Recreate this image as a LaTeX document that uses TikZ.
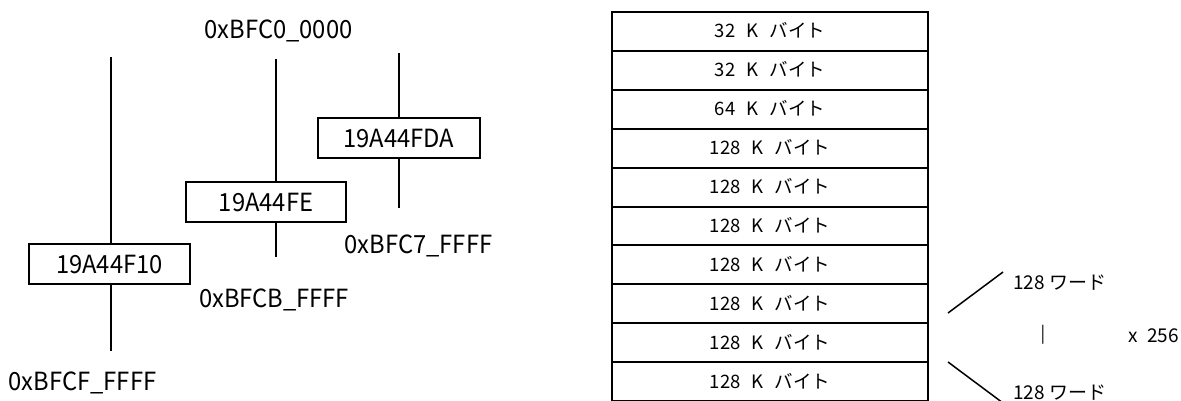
\documentclass[tikz,border=0pt]{standalone}
\usepackage{fontspec}
\newfontfamily\jpn{Noto Sans CJK JP}
\newfontfamily\jpc[FakeStretch=0.95]{Noto Sans CJK JP}
\newcommand\rowfont{\jpn\fontsize{18.5}{22}\selectfont\spaceskip=0.6em\relax}
\newcommand\numfont{\jpn\fontsize{19}{23}\selectfont\spaceskip=0.5em\relax}
\tikzset{
  addr/.style={font=\jpc\fontsize{25}{29}\selectfont, inner sep=0pt, anchor=base},
  valbox/.style={draw, line width=2pt, minimum height=40pt, inner sep=0pt,
    text height=18pt, text depth=0pt, font=\jpc\fontsize{25}{29}\selectfont},
  vline/.style={line width=1.5pt},
  row/.style={draw, line width=2pt, minimum width=316pt, minimum height=38.9pt, inner sep=0pt,
    text height=13pt, text depth=0pt, font=\rowfont},
  word/.style={font=\jpn\fontsize{19}{23}\selectfont, inner sep=0pt, anchor=base west},
  diag/.style={line width=1.5pt}
}
\begin{document}
\begin{tikzpicture}[x=1pt,y=-1pt]
\useasboundingbox (0,0) rectangle (1181,400);
% address labels
\node[addr] (a0) at (278.5,38) {0xBFC0\_0000};
\node[addr] (a1) at (82.5,390) {0xBFCF\_FFFF};
\node[addr] (a2) at (274,307) {0xBFCB\_FFFF};
\node[addr] (a3) at (418.5,253) {0xBFC7\_FFFF};
% value boxes
\node[valbox, minimum width=161pt] (b1) at (109.5,264) {19A44F10};
\node[valbox, minimum width=160pt] (b2) at (266,202) {19A44FE};
\node[valbox, minimum width=162pt] (b3) at (399,138) {19A44FDA};
% line ends
\coordinate (t1) at (111,57);  \coordinate (u1) at (111,351);
\coordinate (t2) at (276,59);  \coordinate (u2) at (276,257);
\coordinate (t3) at (399,53);  \coordinate (u3) at (399,208);
\draw[vline] (t1) -- (t1 |- b1.north);
\draw[vline] (t1 |- b1.south) -- (u1);
\draw[vline] (t2) -- (t2 |- b2.north);
\draw[vline] (t2 |- b2.south) -- (u2);
\draw[vline] (t3) -- (t3 |- b3.north);
\draw[vline] (t3 |- b3.south) -- (u3);
% table
\node[row] (r0) at (770,31.45) {32 K バイト};
\node[row] (r1) at (770,70.35) {32 K バイト};
\node[row] (r2) at (770,109.25) {64 K バイト};
\node[row] (r3) at (770,148.15) {128 K バイト};
\node[row] (r4) at (770,187.05) {128 K バイト};
\node[row] (r5) at (770,225.95) {128 K バイト};
\node[row] (r6) at (770,264.85) {128 K バイト};
\node[row] (r7) at (770,303.75) {128 K バイト};
\node[row] (r8) at (770,342.65) {128 K バイト};
\node[row] (r9) at (770,381.55) {128 K バイト};
% right side
\node[word] (w1) at (1013,289) {128 ワード};
\node[word] (w2) at (1013,399) {128 ワード};
\node[font=\jpn\fontsize{17}{19}\selectfont, inner sep=0pt] (bar) at (1043,335) {|};
\node[word, font=\numfont] (n) at (1128,342) {x 256};
\coordinate (d1a) at (948,313); \coordinate (d1b) at (1003,272);
\coordinate (d2a) at (948,362); \coordinate (d2b) at (1003,403);
\draw[diag] (d1a) -- (d1b);
\draw[diag] (d2a) -- (d2b);
\end{tikzpicture}
\end{document}
